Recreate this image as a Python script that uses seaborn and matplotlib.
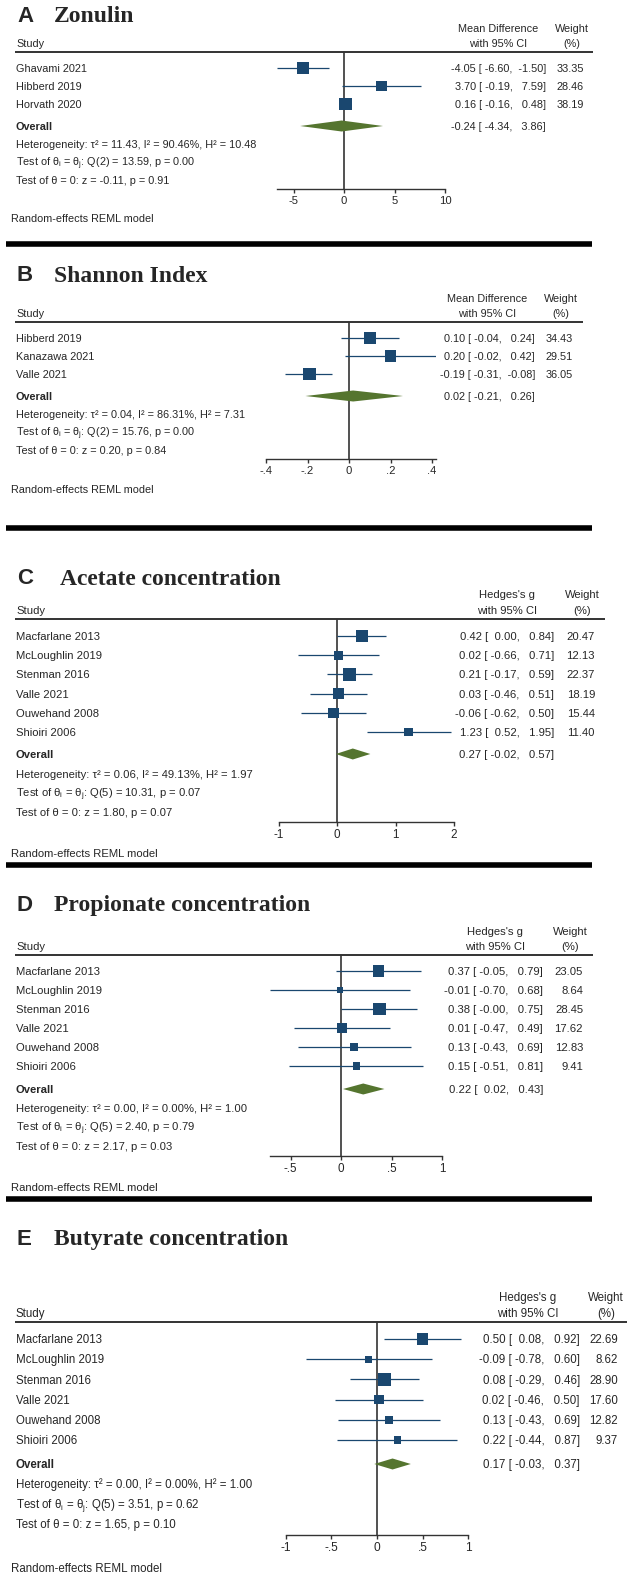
import numpy as np
import pandas as pd
import matplotlib
matplotlib.use("Agg")
import matplotlib.pyplot as plt
from matplotlib.lines import Line2D
import seaborn as sns

W, H = 633, 1577

# ---- data -------------------------------------------------------------
zon_studies = ["Ghavami 2021", "Hibberd 2019", "Horvath 2020"]
zon_est = [-4.05, 3.70, 0.16]
zon_lo = [-6.60, -0.19, -0.16]
zon_hi = [-1.50, 7.59, 0.48]
zon_wt = [33.35, 28.46, 38.19]
zon_overall = [-0.24, -4.34, 3.86]
zon_het = ["11.43", "90.46", "10.48", "2", "13.59", "0.00", "-0.11", "0.91"]
zon_ticks = [-5, 0, 5, 10]
zon_ticklabels = ["-5", "0", "5", "10"]

sha_studies = ["Hibberd 2019", "Kanazawa 2021", "Valle 2021"]
sha_est = [0.10, 0.20, -0.19]
sha_lo = [-0.04, -0.02, -0.31]
sha_hi = [0.24, 0.42, -0.08]
sha_wt = [34.43, 29.51, 36.05]
sha_overall = [0.02, -0.21, 0.26]
sha_het = ["0.04", "86.31", "7.31", "2", "15.76", "0.00", "0.20", "0.84"]
sha_ticks = [-0.4, -0.2, 0, 0.2, 0.4]
sha_ticklabels = ["-.4", "-.2", "0", ".2", ".4"]

scfa_studies = ["Macfarlane 2013", "McLoughlin 2019", "Stenman 2016",
                "Valle 2021", "Ouwehand 2008", "Shioiri 2006"]

ace_est = [0.42, 0.02, 0.21, 0.03, -0.06, 1.23]
ace_lo = [0.00, -0.66, -0.17, -0.46, -0.62, 0.52]
ace_hi = [0.84, 0.71, 0.59, 0.51, 0.50, 1.95]
ace_wt = [20.47, 12.13, 22.37, 18.19, 15.44, 11.40]
ace_overall = [0.27, -0.02, 0.57]
ace_het = ["0.06", "49.13", "1.97", "5", "10.31", "0.07", "1.80", "0.07"]
ace_ticks = [-1, 0, 1, 2]
ace_ticklabels = ["-1", "0", "1", "2"]

pro_est = [0.37, -0.01, 0.38, 0.01, 0.13, 0.15]
pro_lo = [-0.05, -0.70, -0.0, -0.47, -0.43, -0.51]
pro_hi = [0.79, 0.68, 0.75, 0.49, 0.69, 0.81]
pro_wt = [23.05, 8.64, 28.45, 17.62, 12.83, 9.41]
pro_overall = [0.22, 0.02, 0.43]
pro_het = ["0.00", "0.00", "1.00", "5", "2.40", "0.79", "2.17", "0.03"]
pro_ticks = [-0.5, 0, 0.5, 1]
pro_ticklabels = ["-.5", "0", ".5", "1"]

but_est = [0.50, -0.09, 0.08, 0.02, 0.13, 0.22]
but_lo = [0.08, -0.78, -0.29, -0.46, -0.43, -0.44]
but_hi = [0.92, 0.60, 0.46, 0.50, 0.69, 0.87]
but_wt = [22.69, 8.62, 28.90, 17.60, 12.82, 9.37]
but_overall = [0.17, -0.03, 0.37]
but_het = ["0.00", "0.00", "1.00", "5", "3.51", "0.62", "1.65", "0.10"]
but_ticks = [-1, -0.5, 0, 0.5, 1]
but_ticklabels = ["-1", "-.5", "0", ".5", "1"]

# ---- layout (pixel positions) ----------------------------------------
panels = [
    dict(letter="A", title="Zonulin", title_x=54, title_y=14, measure="Mean Difference",
         studies=zon_studies, est=zon_est, lo=zon_lo, hi=zon_hi, wt=zon_wt,
         overall=zon_overall, het=zon_het, ticks=zon_ticks, ticklabels=zon_ticklabels,
         hdr=(28, 43), hline=52, hline_x=593, row0=68, step=18, overall_y=126, stat0=144,
         stat_step=18, base=189, reml=218, zero=344, ppu=10.1, xlim=(-6.60, 10),
         val_r=546, wt_r=584, hdr_c=498, wt_c=572, fs=7.8),
    dict(letter="B", title="Shannon Index", title_x=54, title_y=273, measure="Mean Difference",
         studies=sha_studies, est=sha_est, lo=sha_lo, hi=sha_hi, wt=sha_wt,
         overall=sha_overall, het=sha_het, ticks=sha_ticks, ticklabels=sha_ticklabels,
         hdr=(298, 313), hline=322, hline_x=583, row0=338, step=18, overall_y=396, stat0=414,
         stat_step=18, base=459, reml=489, zero=349, ppu=207.5, xlim=(-0.4, 0.42),
         val_r=535, wt_r=573, hdr_c=487, wt_c=561, fs=7.8),
    dict(letter="C", title="Acetate concentration", title_x=60, title_y=576, measure="Hedges's g",
         studies=scfa_studies, est=ace_est, lo=ace_lo, hi=ace_hi, wt=ace_wt,
         overall=ace_overall, het=ace_het, ticks=ace_ticks, ticklabels=ace_ticklabels,
         hdr=(594, 610), hline=619, hline_x=605, row0=636, step=19.2, overall_y=754, stat0=774,
         stat_step=19, base=822, reml=853, zero=337, ppu=58.5, xlim=(-1, 2),
         val_r=554, wt_r=595, hdr_c=507, wt_c=582, fs=8.1),
    dict(letter="D", title="Propionate concentration", title_x=54, title_y=903, measure="Hedges's g",
         studies=scfa_studies, est=pro_est, lo=pro_lo, hi=pro_hi, wt=pro_wt,
         overall=pro_overall, het=pro_het, ticks=pro_ticks, ticklabels=pro_ticklabels,
         hdr=(931, 946), hline=955, hline_x=593, row0=971, step=19, overall_y=1089, stat0=1108,
         stat_step=19, base=1156, reml=1187, zero=341, ppu=101, xlim=(-0.70, 1),
         val_r=543, wt_r=583, hdr_c=495, wt_c=570, fs=8.1),
    dict(letter="E", title="Butyrate concentration", title_x=54, title_y=1237, measure="Hedges's g",
         studies=scfa_studies, est=but_est, lo=but_lo, hi=but_hi, wt=but_wt,
         overall=but_overall, het=but_het, ticks=but_ticks, ticklabels=but_ticklabels,
         hdr=(1297, 1313), hline=1322, hline_x=627, row0=1339, step=20.2, overall_y=1464, stat0=1484,
         stat_step=20, base=1535, reml=1568, zero=377, ppu=91.4, xlim=(-1, 1),
         val_r=580, wt_r=618, hdr_c=528, wt_c=606, fs=8.3),
]
separators = [244, 528, 865, 1199]

NAVY = "#1a476f"
GREEN = "#55752f"
DARK = "#333333"

sns.set_style("white")
plt.rcParams["font.family"] = ["Liberation Sans", "DejaVu Sans"]
plt.rcParams["mathtext.fontset"] = "custom"
plt.rcParams["mathtext.rm"] = "Liberation Sans"
plt.rcParams["mathtext.it"] = "Liberation Sans:italic"
plt.rcParams["mathtext.bf"] = "Liberation Sans:bold"

fig = plt.figure(figsize=(W / 100, H / 100), dpi=100)


def fx(x):
    return x / W


def fy(y):
    return 1 - y / H


def ftext(x, y, s, fs, **kw):
    # y is the visual middle of the capitals; place the baseline below it
    fig.text(fx(x), fy(y + 0.36 * fs * 100 / 72), s, va="baseline", fontsize=fs, **kw)


def hline_px(y, x0, x1, lw, color):
    fig.add_artist(Line2D([fx(x0), fx(x1)], [fy(y), fy(y)], lw=lw, color=color,
                          transform=fig.transFigure, solid_capstyle="butt"))


for p in panels:
    fs = p["fs"]
    n = len(p["studies"])
    rows = [p["row0"] + i * p["step"] for i in range(n)]

    # titles
    ftext(17, p["title_y"], p["letter"], 16, fontweight="bold")
    ftext(p["title_x"], p["title_y"], p["title"], 17, fontweight="bold",
          family="Liberation Serif")

    # headers
    ftext(p["hdr_c"], p["hdr"][0], p["measure"], fs, ha="center")
    ftext(p["hdr_c"], p["hdr"][1], "with 95% CI", fs, ha="center")
    ftext(p["wt_c"], p["hdr"][0], "Weight", fs, ha="center")
    ftext(p["wt_c"], p["hdr"][1], "(%)", fs, ha="center")
    ftext(16, p["hdr"][1], "Study", fs)
    hline_px(p["hline"], 15, p["hline_x"], 1.4, DARK)

    # study rows
    for y, name, e, l, h, w in zip(rows, p["studies"], p["est"], p["lo"], p["hi"], p["wt"]):
        ftext(16, y, name, fs)
        ftext(p["val_r"], y, f"{e:.2f} [{l:6.2f}, {h:6.2f}]", fs, ha="right")
        ftext(p["wt_r"], y, f"{w:.2f}", fs, ha="right")

    oe, ol, oh = p["overall"]
    ftext(16, p["overall_y"], "Overall", fs, fontweight="bold")
    ftext(p["val_r"], p["overall_y"], f"{oe:.2f} [{ol:6.2f}, {oh:6.2f}]", fs, ha="right")

    t2, i2, h2, df, q, pq, z, pz = p["het"]
    stats = [
        f"Heterogeneity: τ² = {t2}, I² = {i2}%, H² = {h2}",
        r"Test of $\mathrm{\theta_i}$ = $\mathrm{\theta_j}$: " + f"Q({df}) = {q}, p = {pq}",
        f"Test of θ = 0: z = {z}, p = {pz}",
    ]
    for k, s in enumerate(stats):
        ftext(16, p["stat0"] + k * p["stat_step"], s, fs)
    ftext(11, p["reml"], "Random-effects REML model", fs)

    # plot area
    x0 = p["zero"] + p["xlim"][0] * p["ppu"]
    x1 = p["zero"] + p["xlim"][1] * p["ppu"]
    ax = fig.add_axes([fx(x0), fy(p["base"]), (x1 - x0) / W, (p["base"] - p["hline"]) / H])
    ax.patch.set_alpha(0)

    df_rows = pd.DataFrame({"est": p["est"], "row": rows, "wt": p["wt"]})
    wmax = max(p["wt"])
    sizes = {w: (12.5 * 0.72 * np.sqrt(w / wmax)) ** 2 for w in p["wt"]}
    ax.hlines(rows, p["lo"], p["hi"], color=NAVY, lw=0.9, zorder=2)
    sns.scatterplot(data=df_rows, x="est", y="row", size="wt", sizes=sizes, marker="s",
                    color=NAVY, linewidth=0, legend=False, ax=ax, zorder=3)
    dh = 5.5
    yo = p["overall_y"]
    ax.fill([ol, oe, oh, oe], [yo, yo - dh, yo, yo + dh], color=GREEN, lw=0, zorder=3)
    ax.axvline(0, color=DARK, lw=1.2, zorder=1)

    ax.set_xlim(*p["xlim"])
    ax.set_ylim(p["base"], p["hline"])
    ax.set_xlabel("")
    ax.set_ylabel("")
    ax.set_yticks([])
    ax.set_xticks(p["ticks"])
    ax.set_xticklabels(p["ticklabels"])
    for side in ["top", "left", "right"]:
        ax.spines[side].set_visible(False)
    ax.spines["bottom"].set_color(DARK)
    ax.spines["bottom"].set_linewidth(1.0)
    ax.tick_params(axis="x", direction="out", length=3, width=1.0, color=DARK,
                   pad=2, labelsize=fs + 0.3, bottom=True)

for y in separators:
    hline_px(y, 6, 592, 4.0, "black")

fig.savefig("out.png", dpi=100, facecolor="white")
